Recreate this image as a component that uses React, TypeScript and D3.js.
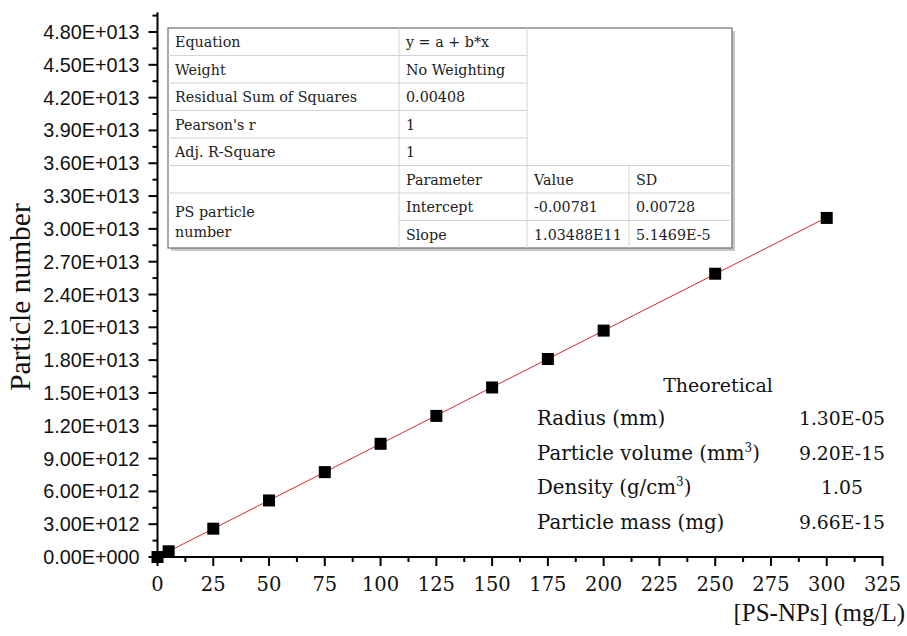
import React from "react";
import * as d3 from "d3";

const concentrations = [0, 5, 25, 50, 75, 100, 125, 150, 175, 200, 250, 300];
const particleNumbers = [0, 5.2e11, 2.59e12, 5.17e12, 7.76e12, 1.035e13, 1.29e13, 1.55e13, 1.81e13, 2.07e13, 2.59e13, 3.1e13];
const fitIntercept = -0.00781;
const fitSlope = 1.03488e11;
const yTicks = [0, 3e12, 6e12, 9e12, 1.2e13, 1.5e13, 1.8e13, 2.1e13, 2.4e13, 2.7e13, 3.0e13, 3.3e13, 3.6e13, 3.9e13, 4.2e13, 4.5e13, 4.8e13];
const yTickLabels = ["0.00E+000", "3.00E+012", "6.00E+012", "9.00E+012", "1.20E+013", "1.50E+013", "1.80E+013", "2.10E+013", "2.40E+013", "2.70E+013", "3.00E+013", "3.30E+013", "3.60E+013", "3.90E+013", "4.20E+013", "4.50E+013", "4.80E+013"];
const xTicks = [0, 25, 50, 75, 100, 125, 150, 175, 200, 225, 250, 275, 300, 325];

const fitRows = [
  ["Equation", "y = a + b*x"],
  ["Weight", "No Weighting"],
  ["Residual Sum of Squares", "0.00408"],
  ["Pearson's r", "1"],
  ["Adj. R-Square", "1"],
];
const paramHeader = ["Parameter", "Value", "SD"];
const paramRows = [
  ["Intercept", "-0.00781", "0.00728"],
  ["Slope", "1.03488E11", "5.1469E-5"],
];
const theoLabels = ["Radius (mm)", "Particle volume (mm", "Density (g/cm", "Particle mass (mg)"];
const theoSup = [false, true, true, false];
const theoValues = ["1.30E-05", "9.20E-15", "1.05", "9.66E-15"];

export default function App() {
  const W = 907, H = 636;
  const x = d3.scaleLinear().domain([0, 325]).range([157.5, 882.5]);
  const y = d3.scaleLinear().domain([0, 4.8e13]).range([557, 32]);
  const yTop = y(4.98e13);
  const minorY = d3.range(1.5e12, 4.98e13, 3e12);
  const minorX = d3.range(12.5, 325, 25);

  const serif = "'DejaVu Serif', serif";
  const sans = "'Liberation Sans', Arial, sans-serif";
  const times = "'Liberation Serif', 'Times New Roman', serif";

  const cx = [168, 399, 527, 629, 732];
  const rowH = 27.5;
  const ty0 = 28;
  const ry = (i: number) => ty0 + i * rowH;
  const tableFont = 14.3;
  const lineCol = "#d4d4d4";

  const fitLine = d3.line<number>().x((d) => x(d)).y((d) => y(fitIntercept + fitSlope * d));

  return (
    <svg width={W} height={H} style={{ position: "absolute", left: 0, top: 0, background: "#fff" }}>
      {/* fit table */}
      <g>
        <rect x={cx[0] + 3} y={ty0 + 3} width={cx[4] - cx[0]} height={ry(8) - ty0} fill="#c8c8c8" />
        <rect x={cx[0]} y={ty0} width={cx[4] - cx[0]} height={ry(8) - ty0} fill="#fff" stroke="#6e6e6e" strokeWidth={1.2} />
        {[1, 2, 3, 4].map((i) => (
          <line key={"h" + i} x1={cx[0]} x2={cx[2]} y1={ry(i)} y2={ry(i)} stroke={lineCol} />
        ))}
        {[5, 6].map((i) => (
          <line key={"hf" + i} x1={cx[0]} x2={cx[4]} y1={ry(i)} y2={ry(i)} stroke={lineCol} />
        ))}
        <line x1={cx[1]} x2={cx[4]} y1={ry(7)} y2={ry(7)} stroke={lineCol} />
        <line x1={cx[1]} x2={cx[1]} y1={ry(0)} y2={ry(8)} stroke={lineCol} />
        <line x1={cx[2]} x2={cx[2]} y1={ry(0)} y2={ry(8)} stroke={lineCol} />
        <line x1={cx[3]} x2={cx[3]} y1={ry(5)} y2={ry(8)} stroke={lineCol} />
        <g fontFamily={serif} fontSize={tableFont} fill="#222">
          {fitRows.map((r, i) => (
            <g key={"fr" + i}>
              <text x={cx[0] + 7} y={ry(i) + 19}>{r[0]}</text>
              <text x={cx[1] + 7} y={ry(i) + 19}>{r[1]}</text>
            </g>
          ))}
          {paramHeader.map((t, j) => (
            <text key={"ph" + j} x={cx[j + 1] + 7} y={ry(5) + 19}>{t}</text>
          ))}
          {paramRows.map((r, i) =>
            r.map((t, j) => (
              <text key={"pr" + i + j} x={cx[j + 1] + 7} y={ry(6 + i) + 19}>{t}</text>
            ))
          )}
          <text x={cx[0] + 7} y={ry(6) + 24}>PS particle</text>
          <text x={cx[0] + 7} y={ry(6) + 44}>number</text>
        </g>
      </g>

      {/* theoretical table */}
      <g fontFamily={serif} fill="#111">
        <text x={718} y={392} textAnchor="middle" fontSize={19}>Theoretical</text>
        {theoLabels.map((t, i) => (
          <g key={"th" + i}>
            <text x={537} y={425 + i * 34.7} fontSize={19.8}>
              {t}
              {theoSup[i] ? (
                <>
                  <tspan fontSize={12} dy={-8}>3</tspan>
                  <tspan dy={8}>)</tspan>
                </>
              ) : null}
            </text>
            <text x={842} y={425 + i * 34.7} textAnchor="middle" fontSize={18.8}>{theoValues[i]}</text>
          </g>
        ))}
      </g>

      {/* fit line */}
      <path d={fitLine([0, 300]) || ""} fill="none" stroke="#d62a2a" strokeWidth={1} />

      {/* points */}
      {concentrations.map((c, i) => (
        <rect key={"p" + i} x={x(c) - 6} y={y(particleNumbers[i]) - 6} width={12} height={12} fill="#000" />
      ))}

      {/* axes */}
      <g stroke="#000" strokeWidth={2}>
        <line x1={x(0)} x2={x(0)} y1={yTop} y2={y(0) + 1} />
        <line x1={x(0) - 1} x2={x(325) + 1} y1={y(0)} y2={y(0)} />
        {yTicks.map((t, i) => (
          <line key={"yt" + i} x1={x(0) - 9} x2={x(0)} y1={y(t)} y2={y(t)} />
        ))}
        {minorY.map((t, i) => (
          <line key={"ym" + i} x1={x(0) - 5} x2={x(0)} y1={y(t)} y2={y(t)} />
        ))}
        {xTicks.map((t, i) => (
          <line key={"xt" + i} x1={x(t)} x2={x(t)} y1={y(0)} y2={y(0) + 9} />
        ))}
        {minorX.map((t, i) => (
          <line key={"xm" + i} x1={x(t)} x2={x(t)} y1={y(0)} y2={y(0) + 5} />
        ))}
      </g>
      <g fontFamily={sans} fontSize={19.8} fill="#111" textAnchor="end">
        {yTicks.map((t, i) => (
          <text key={"yl" + i} x={x(0) - 18} y={y(t) + 7}>{yTickLabels[i]}</text>
        ))}
      </g>
      <g fontFamily={serif} fontSize={19.5} fill="#111" textAnchor="middle">
        {xTicks.map((t, i) => (
          <text key={"xl" + i} x={x(t)} y={591}>{t}</text>
        ))}
      </g>
      <text x={905} y={621} textAnchor="end" fontFamily={times} fontSize={25} fill="#111">[PS-NPs] (mg/L)</text>
      <text transform="translate(30,297) rotate(-90)" textAnchor="middle" fontFamily={times} fontSize={29.5} fill="#111">Particle number</text>
    </svg>
  );
}
